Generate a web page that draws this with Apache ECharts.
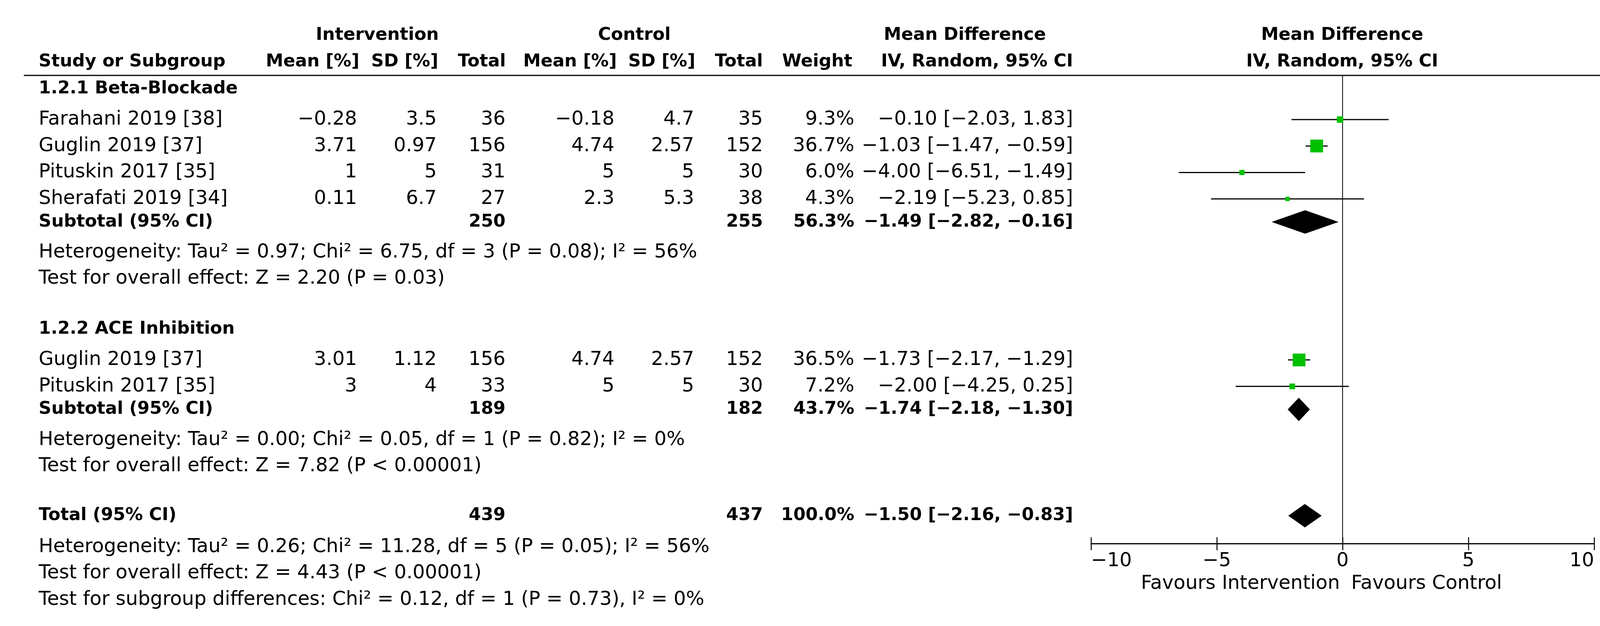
<!DOCTYPE html>
<html>
<head>
<meta charset="utf-8">
<script src="https://cdn.jsdelivr.net/npm/echarts@6/dist/echarts.min.js"></script>
<style>
html,body{margin:0;padding:0;background:#fff;}
#c{width:4137px;height:1602px;}
</style>
</head>
<body>
<div id="c"></div>
<script>
// ================= DATA =================
const groupNames = ['1.2.1 Beta-Blockade', '1.2.2 ACE Inhibition'];

const studies1 = ['Farahani 2019 [38]', 'Guglin 2019 [37]', 'Pituskin 2017 [35]', 'Sherafati 2019 [34]'];
const intMean1 = [-0.28, 3.71, 1, 0.11];
const intSD1   = [3.5, 0.97, 5, 6.7];
const intN1    = [36, 156, 31, 27];
const ctlMean1 = [-0.18, 4.74, 5, 2.3];
const ctlSD1   = [4.7, 2.57, 5, 5.3];
const ctlN1    = [35, 152, 30, 38];
const weight1  = [9.3, 36.7, 6.0, 4.3];
const md1      = [-0.10, -1.03, -4.00, -2.19];
const lo1      = [-2.03, -1.47, -6.51, -5.23];
const hi1      = [1.83, -0.59, -1.49, 0.85];

const studies2 = ['Guglin 2019 [37]', 'Pituskin 2017 [35]'];
const intMean2 = [3.01, 3];
const intSD2   = [1.12, 4];
const intN2    = [156, 33];
const ctlMean2 = [4.74, 5];
const ctlSD2   = [2.57, 5];
const ctlN2    = [152, 30];
const weight2  = [36.5, 7.2];
const md2      = [-1.73, -2.00];
const lo2      = [-2.17, -4.25];
const hi2      = [-1.29, 0.25];

// subtotals: [group1, group2]
const subIntN   = [250, 189];
const subCtlN   = [255, 182];
const subWeight = [56.3, 43.7];
const subMD     = [-1.49, -1.74];
const subLo     = [-2.82, -2.18];
const subHi     = [-0.16, -1.30];

// overall total
const totIntN = 439, totCtlN = 437, totWeight = 100.0;
const totMD = -1.50, totLo = -2.16, totHi = -0.83;

const hetTexts = [
  'Heterogeneity: Tau\u00B2 = 0.97; Chi\u00B2 = 6.75, df = 3 (P = 0.08); I\u00B2 = 56%',
  'Heterogeneity: Tau\u00B2 = 0.00; Chi\u00B2 = 0.05, df = 1 (P = 0.82); I\u00B2 = 0%',
  'Heterogeneity: Tau\u00B2 = 0.26; Chi\u00B2 = 11.28, df = 5 (P = 0.05); I\u00B2 = 56%'
];
const testTexts = [
  'Test for overall effect: Z = 2.20 (P = 0.03)',
  'Test for overall effect: Z = 7.82 (P < 0.00001)',
  'Test for overall effect: Z = 4.43 (P < 0.00001)'
];
const subgroupText = 'Test for subgroup differences: Chi\u00B2 = 0.12, df = 1 (P = 0.73), I\u00B2 = 0%';

const xTickMin = -10, xTickMax = 10, xTickStep = 5;

// ================= LAYOUT / STYLE =================
const FAM = '"DejaVu Sans", Verdana, sans-serif';
const REG_SIZE = 49.5;
const REG = REG_SIZE + 'px ' + FAM;
const BOLD = 'bold 45px ' + FAM;
const GREEN = '#00c000';

const COL = { study: 99, intMean: 914, intSD: 1118, intN: 1294, ctlMean: 1573, ctlSD: 1777, ctlN: 1953, weight: 2187, ci: 2747 };
const GRID = { left: 2793, right: 56, top: 193, bottom: 211 };
const PLOT_TOP = 193, PLOT_BOTTOM = 1391;

const minus = s => String(s).replace(/-/g, '\u2212');
const f2 = v => minus(v.toFixed(2));
const ciText = (m, l, h) => `${f2(m)} [${f2(l)}, ${f2(h)}]`;
const pct = w => w.toFixed(1) + '%';

// row positions (layout)
const STEP = 67.7, GROUP_TO_STUDY = 79, STUDY_TO_SUB = 59, SUB_TO_NOTE = 78, NOTE_STEP = 67, SECTION_GAP = 129;

const texts = [];   // graphic text elements
const ciData = [];  // [md, lo, hi, y, weight]
const diaData = []; // [md, lo, hi, y]

function txt(str, x, y, font, align) {
  texts.push({ type: 'text', silent: true, style: {
    text: str, x: x, y: y, font: font, fill: '#000',
    textAlign: align || 'left', textVerticalAlign: 'middle',
    align: align || 'left', verticalAlign: 'middle'
  }});
}

// headers
txt('Intervention', 966, 90, BOLD, 'center');
txt('Control', 1624, 90, BOLD, 'center');
txt('Mean Difference', 2470, 90, BOLD, 'center');
txt('Mean Difference', 3436, 90, BOLD, 'center');
txt('Study or Subgroup', COL.study, 158, BOLD, 'left');
txt('Mean [%]', 920, 158, BOLD, 'right');
txt('SD [%]', 1122, 158, BOLD, 'right');
txt('Total', 1295, 158, BOLD, 'right');
txt('Mean [%]', 1579, 158, BOLD, 'right');
txt('SD [%]', 1780, 158, BOLD, 'right');
txt('Total', 1953, 158, BOLD, 'right');
txt('Weight', 2182, 158, BOLD, 'right');
txt('IV, Random, 95% CI', 2747, 158, BOLD, 'right');
txt('IV, Random, 95% CI', 3436, 158, BOLD, 'center');

const groups = [
  { name: groupNames[0], st: studies1, im: intMean1, isd: intSD1, iN: intN1, cm: ctlMean1, csd: ctlSD1, cN: ctlN1, w: weight1, md: md1, lo: lo1, hi: hi1 },
  { name: groupNames[1], st: studies2, im: intMean2, isd: intSD2, iN: intN2, cm: ctlMean2, csd: ctlSD2, cN: ctlN2, w: weight2, md: md2, lo: lo2, hi: hi2 }
];

let y = 227;
groups.forEach((g, gi) => {
  if (gi > 0) y += SECTION_GAP;
  txt(g.name, COL.study, y, BOLD, 'left');
  y += GROUP_TO_STUDY;
  g.st.forEach((name, i) => {
    if (i > 0) y += STEP;
    txt(name, COL.study, y, REG);
    txt(minus(g.im[i]), COL.intMean, y, REG, 'right');
    txt(minus(g.isd[i]), COL.intSD, y, REG, 'right');
    txt(String(g.iN[i]), COL.intN, y, REG, 'right');
    txt(minus(g.cm[i]), COL.ctlMean, y, REG, 'right');
    txt(minus(g.csd[i]), COL.ctlSD, y, REG, 'right');
    txt(String(g.cN[i]), COL.ctlN, y, REG, 'right');
    txt(pct(g.w[i]), COL.weight, y, REG, 'right');
    txt(ciText(g.md[i], g.lo[i], g.hi[i]), COL.ci, y, REG, 'right');
    ciData.push([g.md[i], g.lo[i], g.hi[i], y, g.w[i]]);
  });
  y += STUDY_TO_SUB;
  txt('Subtotal (95% CI)', COL.study, y, BOLD);
  txt(String(subIntN[gi]), COL.intN, y, BOLD, 'right');
  txt(String(subCtlN[gi]), COL.ctlN, y, BOLD, 'right');
  txt(pct(subWeight[gi]), COL.weight, y, BOLD, 'right');
  txt(ciText(subMD[gi], subLo[gi], subHi[gi]), COL.ci, y, BOLD, 'right');
  diaData.push([subMD[gi], subLo[gi], subHi[gi], y]);
  y += SUB_TO_NOTE;
  txt(hetTexts[gi], COL.study, y, REG);
  y += NOTE_STEP;
  txt(testTexts[gi], COL.study, y, REG);
});
y += SECTION_GAP - 2;
txt('Total (95% CI)', COL.study, y, BOLD);
txt(String(totIntN), COL.intN, y, BOLD, 'right');
txt(String(totCtlN), COL.ctlN, y, BOLD, 'right');
txt(pct(totWeight), COL.weight, y, BOLD, 'right');
txt(ciText(totMD, totLo, totHi), COL.ci, y, BOLD, 'right');
diaData.push([totMD, totLo, totHi, y]);
y += SUB_TO_NOTE + 2;
txt(hetTexts[2], COL.study, y, REG);
y += NOTE_STEP;
txt(testTexts[2], COL.study, y, REG);
y += NOTE_STEP + 1;
txt(subgroupText, COL.study, y, REG);

// header rule
texts.push({ type: 'line', silent: true, shape: { x1: 61, y1: 193, x2: 4128, y2: 193 }, style: { stroke: '#000', lineWidth: 3 } });

const SQ_K = 5.4;     // square side per sqrt(weight %)
const DIA_H = 30;     // diamond half-height

const chart = echarts.init(document.getElementById('c'), null, { renderer: 'canvas' });

const xBase = {
  type: 'value', min: xTickMin, max: xTickMax, interval: xTickStep, position: 'bottom',
  splitLine: { show: false }
};

chart.setOption({
  animation: false,
  backgroundColor: '#fff',
  grid: { left: GRID.left, right: GRID.right, top: GRID.top, bottom: GRID.bottom, containLabel: false, outerBoundsMode: 'none' },
  xAxis: [
    Object.assign({}, xBase, {
      axisLine: { show: true, onZero: false, lineStyle: { color: '#000', width: 3 } },
      axisTick: { show: true, length: 17, lineStyle: { color: '#000', width: 2.5 } },
      axisLabel: { show: true, color: '#000', fontFamily: FAM, fontSize: REG_SIZE, margin: 20,
        formatter: v => minus(v), alignMinLabel: 'left', alignMaxLabel: 'right' }
    }),
    Object.assign({}, xBase, {
      axisLine: { show: false, onZero: false },
      axisTick: { show: true, inside: true, length: 16, lineStyle: { color: '#000', width: 2.5 } },
      axisLabel: { show: false }
    })
  ],
  yAxis: {
    type: 'value', min: PLOT_TOP, max: PLOT_BOTTOM, inverse: true,
    axisLine: { show: true, onZero: true, lineStyle: { color: '#000', width: 2 } },
    axisTick: { show: false }, axisLabel: { show: false }, splitLine: { show: false }
  },
  series: [
    {
      type: 'custom', xAxisIndex: 0, yAxisIndex: 0, silent: true, z: 5,
      renderItem: (params, api) => {
        const yy = api.value(3);
        const a = api.coord([api.value(1), yy]);
        const b = api.coord([api.value(2), yy]);
        const c = api.coord([api.value(0), yy]);
        const side = SQ_K * Math.sqrt(api.value(4));
        return { type: 'group', children: [
          { type: 'line', shape: { x1: a[0], y1: a[1], x2: b[0], y2: b[1] }, style: { stroke: '#000', lineWidth: 3 } },
          { type: 'rect', shape: { x: c[0] - side / 2, y: c[1] - side / 2, width: side, height: side }, style: { fill: GREEN } }
        ]};
      },
      data: ciData
    },
    {
      type: 'custom', xAxisIndex: 0, yAxisIndex: 0, silent: true, z: 5,
      renderItem: (params, api) => {
        const yy = api.value(3);
        const l = api.coord([api.value(1), yy]);
        const r = api.coord([api.value(2), yy]);
        const m = api.coord([api.value(0), yy]);
        return { type: 'polygon', shape: { points: [[l[0], l[1]], [m[0], m[1] - DIA_H], [r[0], r[1]], [m[0], m[1] + DIA_H]] },
          style: { fill: '#000' } };
      },
      data: diaData
    }
  ],
  graphic: texts
});

// "Favours" labels anchored to zero on the x axis
const zeroX = chart.convertToPixel({ xAxisIndex: 0 }, 0);
const favY = 1494;
chart.setOption({
  graphic: texts.concat([
    { type: 'text', silent: true, style: { text: 'Favours Intervention', x: zeroX - 7, y: favY, font: REG, fill: '#000', textAlign: 'right', align: 'right', textVerticalAlign: 'middle', verticalAlign: 'middle' } },
    { type: 'text', silent: true, style: { text: 'Favours Control', x: zeroX + 22, y: favY, font: REG, fill: '#000', textAlign: 'left', align: 'left', textVerticalAlign: 'middle', verticalAlign: 'middle' } }
  ])
}, { replaceMerge: ['graphic'] });
</script>
</body>
</html>
